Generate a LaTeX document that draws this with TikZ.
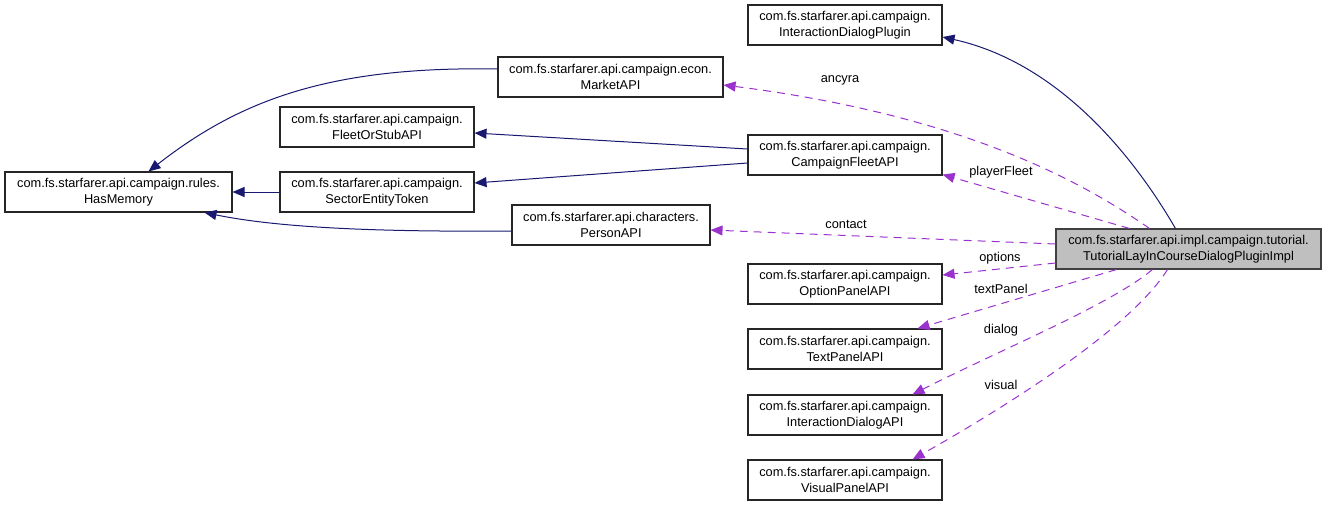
\documentclass[tikz,border=0pt]{standalone}
\usepackage{fontspec}
\setmainfont{Liberation Sans}
\usetikzlibrary{arrows.meta,calc,positioning}
\definecolor{edgeblue}{HTML}{191970}
\definecolor{edgepurple}{HTML}{9A32CD}
\definecolor{mainfill}{HTML}{BFBFBF}

\begin{document}
\begin{tikzpicture}[x=0.75pt,y=-0.75pt,
    cls/.style={draw=black!85,line width=0.8pt,fill=white,align=center,
      minimum height=30pt,inner sep=0pt,font=\fontsize{9.6}{12}\selectfont},
    inh/.style={edgeblue,line width=0.75pt,-{Triangle[length=9pt,width=7.5pt]}},
    use/.style={edgepurple,line width=0.75pt,dash pattern=on 6pt off 4.5pt,
      -{Triangle[length=9pt,width=7.5pt]}},
    lbl/.style={font=\fontsize{9.6}{12}\selectfont}]
  \useasboundingbox (0,0) rectangle (1325,507);
  % classes
  \node[cls,minimum width=170.25pt] (hasmem) at (118.5,192)
    {com.fs.starfarer.api.campaign.rules.\\HasMemory};
  \node[cls,minimum width=145.5pt] (fleetstub) at (377,127)
    {com.fs.starfarer.api.campaign.\\FleetOrStubAPI};
  \node[cls,minimum width=145.5pt] (sector) at (377,192)
    {com.fs.starfarer.api.campaign.\\SectorEntityToken};
  \node[cls,minimum width=168.75pt] (market) at (610.5,77)
    {com.fs.starfarer.api.campaign.econ.\\MarketAPI};
  \node[cls,minimum width=148.5pt] (person) at (611,225)
    {com.fs.starfarer.api.characters.\\PersonAPI};
  \node[cls,minimum width=145.5pt] (plugin) at (845,25)
    {com.fs.starfarer.api.campaign.\\InteractionDialogPlugin};
  \node[cls,minimum width=145.5pt] (cfleet) at (845,155)
    {com.fs.starfarer.api.campaign.\\CampaignFleetAPI};
  \foreach \n/\y/\t in {optpanel/284/OptionPanelAPI,textpanel/349/TextPanelAPI,
      dlgapi/415/InteractionDialogAPI,vispanel/480/VisualPanelAPI}
    \node[cls,minimum width=145.5pt] (\n) at (845,\y)
      {com.fs.starfarer.api.campaign.\\\t};
  \node[cls,fill=mainfill,draw=black!75,minimum width=198.75pt] (main) at (1188.5,249)
    {com.fs.starfarer.api.impl.campaign.tutorial.\\TutorialLayInCourseDialogPluginImpl};

  % inheritance
  \draw[inh] (sector) -- (hasmem);
  \draw[inh] ($(cfleet.west)+(0,-6)$) -- ($(fleetstub.east)+(0,6)$);
  \draw[inh] ($(cfleet.west)+(0,8)$) -- ($(sector.east)+(0,-9)$);
  \draw[inh] ($(market.west)+(0,-8)$) .. controls (330,66) and (240,100) .. ($(hasmem.north)+(30,0)$);
  \draw[inh] ($(person.west)+(0,6)$) .. controls (380,232) and (280,228) .. ($(hasmem.south)+(86,0)$);
  \draw[inh] ($(main.north west)+(120,0)$) .. controls (1130,150) and (1055,62) .. ($(plugin.east)+(0,12)$);

  % members
  \draw[use] ($(main.north west)+(94,0)$) .. controls (1080,180) and (960,115) .. ($(market.east)+(0,8)$);
  \draw[use] ($(main.north west)+(74,0)$) -- ($(cfleet.south east)+(0,-1)$);
  \draw[use] ($(main.west)+(0,-5)$) -- ($(person.east)+(0,5)$);
  \draw[use] ($(main.west)+(0,14)$) -- ($(optpanel.east)+(0,-9)$);
  \draw[use] ($(main.south west)+(61,0)$) -- ($(textpanel.north east)+(-25,0)$);
  \draw[use] ($(main.south west)+(97,0)$) .. controls (1110,305) and (1000,350) .. ($(dlgapi.north east)+(-30,0)$);
  \draw[use] ($(main.south west)+(112,0)$) .. controls (1130,330) and (1000,410) .. ($(vispanel.north east)+(-30,0)$);

  % member names
  \node[lbl] (l-ancyra) at (840,80) {ancyra};
  \node[lbl] (l-player) at (1001,172) {playerFleet};
  \node[lbl] (l-contact) at (846,224) {contact};
  \node[lbl] (l-options) at (1000,258) {options};
  \node[lbl] (l-text) at (1001,289) {textPanel};
  \node[lbl] (l-dialog) at (1001,330) {dialog};
  \node[lbl] (l-visual) at (1001,385) {visual};
\end{tikzpicture}
\end{document}
